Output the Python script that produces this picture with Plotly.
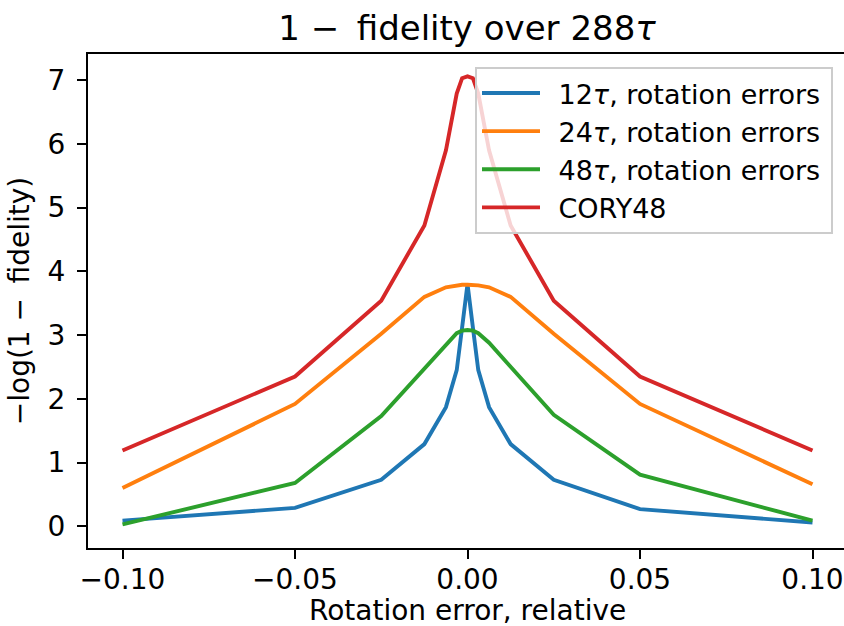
import plotly.graph_objects as go

# Data
rotation_error = [-0.1, -0.05, -0.025, -0.0125, -0.00625, -0.003125, -0.0015625, 0.0,
                  0.0015625, 0.003125, 0.00625, 0.0125, 0.025, 0.05, 0.1]
s12 = [0.09, 0.29, 0.73, 1.29, 1.87, 2.45, 3.12, 3.80, 3.12, 2.45, 1.87, 1.29, 0.73, 0.27, 0.06]
s24 = [0.60, 1.92, 3.02, 3.60, 3.75, 3.78, 3.79, 3.79, 3.79, 3.78, 3.75, 3.60, 3.02, 1.92, 0.66]
s48 = [0.03, 0.68, 1.73, 2.48, 2.86, 3.03, 3.07, 3.08, 3.07, 3.03, 2.88, 2.50, 1.75, 0.81, 0.09]
cory48 = [1.19, 2.35, 3.54, 4.72, 5.90, 6.79, 7.03, 7.06, 7.03, 6.79, 5.90, 4.72, 3.54, 2.35, 1.19]

series_names = ["12<i>τ</i>, rotation errors", "24<i>τ</i>, rotation errors",
                "48<i>τ</i>, rotation errors", "CORY48"]
series_values = [s12, s24, s48, cory48]
colors = ["#1f77b4", "#ff7f0e", "#2ca02c", "#d62728"]

x_tickvals = [-0.10, -0.05, 0.0, 0.05, 0.10]
x_ticktext = ["−0.10", "−0.05", "0.00", "0.05", "0.10"]
y_tickvals = [0, 1, 2, 3, 4, 5, 6, 7]

FONT = "DejaVu Sans"
W, H = 847, 626   # plot area runs slightly past the 844px window, like the reference
ML, MR, MT, MB = 88, 0, 54, 78
PH = H - MT - MB

fig = go.Figure()
for name, vals, col in zip(series_names, series_values, colors):
    fig.add_trace(go.Scatter(x=rotation_error, y=vals, mode="lines",
                             name="\u2002" + name + "\u2009",
                             line=dict(color=col, width=3.9)))

fig.update_layout(
    width=W, height=H,
    margin=dict(l=ML, r=MR, t=MT, b=MB, autoexpand=False),
    paper_bgcolor="white", plot_bgcolor="white",
    font=dict(family=FONT, size=28, color="black"),
    title=dict(text="1 −\u2009 fidelity over 288<i>τ</i>", font=dict(size=34, family=FONT),
               x=(467 - ML) / (W - ML - MR), xref="paper", xanchor="center",
               y=1 - 40 / H, yref="container", yanchor="bottom"),
    showlegend=True,
    legend=dict(x=(833 - ML) / (W - ML - MR), y=(548 - 67) / PH,
                xanchor="right", yanchor="top",
                bgcolor="rgba(255,255,255,0.8)", bordercolor="#cccccc", borderwidth=2,
                font=dict(size=27, family=FONT), tracegroupgap=0, itemwidth=58),
    xaxis=dict(range=[-0.11, 0.11], tickvals=x_tickvals, ticktext=x_ticktext,
               showgrid=False, zeroline=False, showline=True, linecolor="black", linewidth=2,
               mirror=True, ticks="outside", ticklen=9, tickwidth=2, tickcolor="black",
               ticklabelstandoff=-4, automargin=False),
    yaxis=dict(range=[-0.34, 7.41], tickvals=y_tickvals,
               showgrid=False, zeroline=False, showline=True, linecolor="black", linewidth=2,
               mirror=True, ticks="outside", ticklen=9, tickwidth=2, tickcolor="black",
               ticklabelstandoff=6,
               title=dict(text="−log(1 −\u2009 fidelity)", standoff=10, font=dict(size=28)),
               automargin=False),
    annotations=[dict(text="Rotation error, relative", xref="paper", yref="paper",
                      x=(467 - ML) / (W - ML - MR), y=-(610 - 548) / PH,
                      xanchor="center", yanchor="middle", showarrow=False,
                      font=dict(size=28, family=FONT))],
)

fig.write_html("out.html", config={"displayModeBar": False},
               post_script="document.body.style.margin='0';document.body.style.overflow='hidden';")
